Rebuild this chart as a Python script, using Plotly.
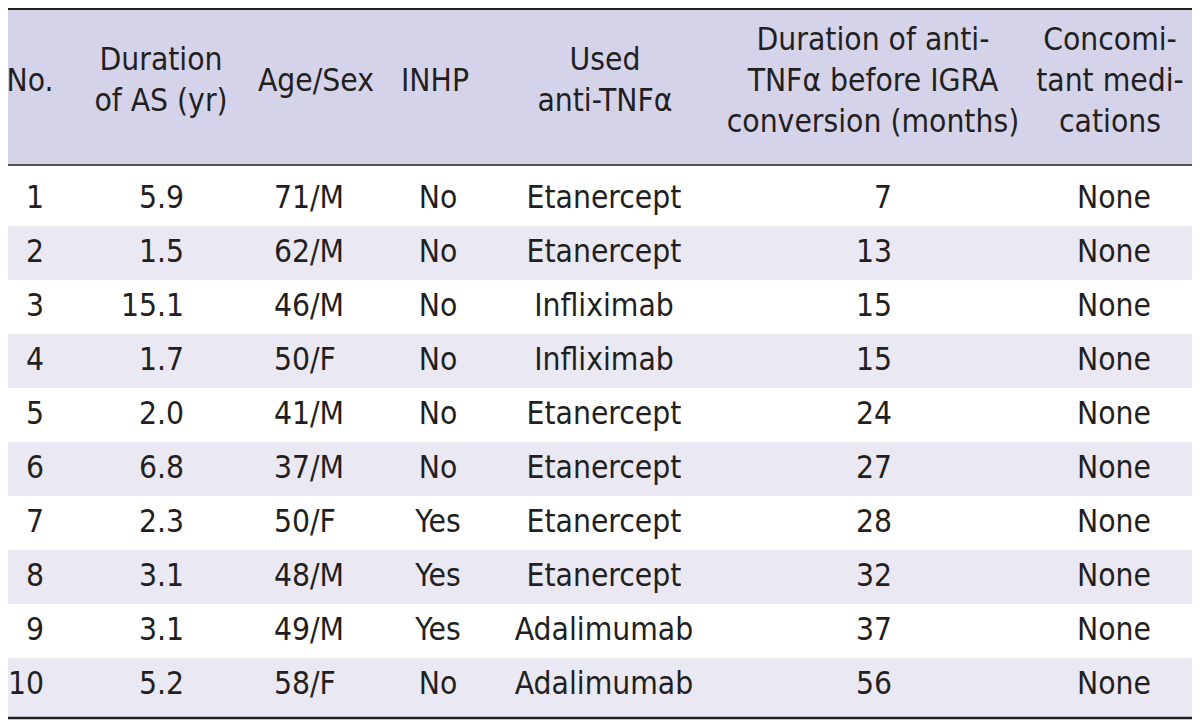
import plotly.graph_objects as go

# table data
patient_no = [1, 2, 3, 4, 5, 6, 7, 8, 9, 10]
duration_as = [5.9, 1.5, 15.1, 1.7, 2.0, 6.8, 2.3, 3.1, 3.1, 5.2]
age = [71, 62, 46, 50, 41, 37, 50, 48, 49, 58]
sex = ["M", "M", "M", "F", "M", "M", "F", "M", "M", "F"]
inhp = ["No", "No", "No", "No", "No", "No", "Yes", "Yes", "Yes", "No"]
anti_tnf = ["Etanercept", "Etanercept", "Infliximab", "Infliximab", "Etanercept",
            "Etanercept", "Etanercept", "Etanercept", "Adalimumab", "Adalimumab"]
months_to_conversion = [7, 13, 15, 15, 24, 27, 28, 32, 37, 56]
medications = ["None"] * 10

headers = ["No.", "Duration<br>of AS (yr)", "Age/Sex", "INHP", "Used<br>anti-TNFα",
           "Duration of anti-<br>TNFα before IGRA<br>conversion (months)",
           "Concomi-<br>tant medi-<br>cations"]

columns = [
    [str(n) for n in patient_no],
    [f"{d:.1f}" for d in duration_as],
    [f"{a}/{s}" for a, s in zip(age, sex)],
    inhp,
    anti_tnf,
    [str(m) for m in months_to_conversion],
    medications,
]

# layout of each column: header centre x, cell anchor x, cell text position
col_layout = [
    (30, 44, "middle left"),
    (161, 184, "middle left"),
    (316, 274, "middle right"),
    (435, 438, "middle center"),
    (605, 604, "middle center"),
    (873, 892, "middle left"),
    (1110, 1114, "middle center"),
]

W, H = 1200, 720
PAGE_OFF = 8        # the page body margin pushes the plot div by this much
HEAD_LINE = 165     # px, rule under the header
ROWS_TOP = 172      # px, first row starts a little below the rule
ROW_H = 54
BOTTOM_LINE = 717   # px


def px_to_y(px):
    # row units: row n is centred on n
    return 0.5 + (px - ROWS_TOP) / ROW_H


FONT = "DejaVu Sans Condensed, Liberation Sans Narrow, Arial Narrow, sans-serif"
FSIZE = 31.5
TXT = "#231f20"
HEAD_BG = "#d5d3e9"
STRIPE = "#e9e8f3"

fig = go.Figure()

for col, (hx, cx, pos) in zip(columns, col_layout):
    fig.add_trace(go.Scatter(
        x=[cx] * len(col), y=[n + 0.03 for n in patient_no], mode="text", text=col,
        textposition=pos, textfont=dict(family=FONT, size=FSIZE, color=TXT),
        hoverinfo="skip", showlegend=False))

fig.add_trace(go.Scatter(
    x=[c[0] for c in col_layout], y=[px_to_y(83)] * len(headers),
    mode="text", text=headers, textposition="middle center",
    textfont=dict(family=FONT, size=FSIZE, color=TXT),
    hoverinfo="skip", showlegend=False))

shapes = [dict(type="rect", xref="paper", yref="y", x0=0, x1=1,
               y0=px_to_y(0), y1=px_to_y(HEAD_LINE), fillcolor=HEAD_BG,
               line_width=0, layer="below")]
last = patient_no[-1]
for n in patient_no:
    if n % 2 == 0:
        y1 = px_to_y(BOTTOM_LINE) if n == last else n + 0.5
        shapes.append(dict(type="rect", xref="paper", yref="y", x0=0, x1=1,
                           y0=n - 0.5, y1=y1, fillcolor=STRIPE, line_width=0,
                           layer="below"))
for ypx, lw in [(PAGE_OFF + 1, 2), (HEAD_LINE, 1.5), (BOTTOM_LINE + 1, 2.5)]:
    shapes.append(dict(type="line", xref="paper", yref="y", x0=0, x1=1,
                       y0=px_to_y(ypx), y1=px_to_y(ypx),
                       line=dict(color=TXT, width=lw)))

fig.update_layout(
    width=W - PAGE_OFF, height=H - PAGE_OFF,
    margin=dict(l=0, r=0, t=0, b=0),
    paper_bgcolor="white", plot_bgcolor="white",
    shapes=shapes,
    xaxis=dict(range=[PAGE_OFF, W], visible=False, fixedrange=True),
    yaxis=dict(range=[px_to_y(H), px_to_y(PAGE_OFF)], visible=False, fixedrange=True),
)

fig.write_html("out.html")
